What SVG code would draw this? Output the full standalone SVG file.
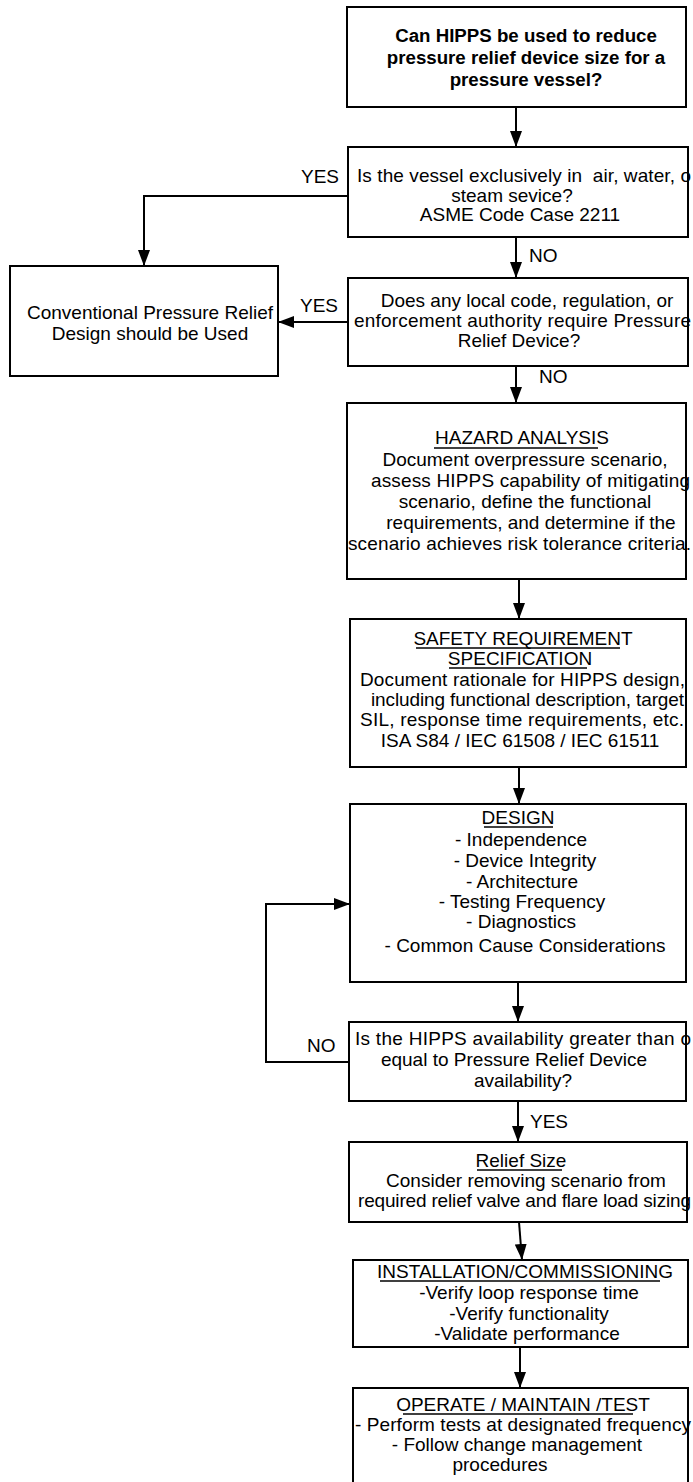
<svg xmlns="http://www.w3.org/2000/svg" width="693" height="1482" viewBox="0 0 693 1482">
<style>
.bg{fill:#fff}
.box{fill:#fff;stroke:#000;stroke-width:2}
.t{font-family:"Liberation Sans",Arial,Helvetica,sans-serif;font-size:19px;fill:#000}
.b{font-weight:bold;font-size:18.7px}
.m{text-anchor:middle}
.c{fill:none;stroke:#000;stroke-width:2}
.u{stroke:#000;stroke-width:1.4}
</style>
<defs>
<marker id="ah" markerUnits="userSpaceOnUse" markerWidth="16" markerHeight="12" refX="16" refY="6" orient="auto">
<path d="M0,0 L16,6 L0,12 z" fill="#000"/>
</marker>
</defs>
<rect class="bg" x="0" y="0" width="693" height="1482"/>
<g id="connectors">
<path class="c" d="M516,107 V147" marker-end="url(#ah)"/>
<path class="c" d="M348,196 H144 V266" marker-end="url(#ah)"/>
<path class="c" d="M516,237 V278" marker-end="url(#ah)"/>
<path class="c" d="M348,322 H278" marker-end="url(#ah)"/>
<path class="c" d="M516,366 V403" marker-end="url(#ah)"/>
<path class="c" d="M519,579 V619" marker-end="url(#ah)"/>
<path class="c" d="M519,767 V804" marker-end="url(#ah)"/>
<path class="c" d="M518,982 V1022" marker-end="url(#ah)"/>
<path class="c" d="M349,1062 H266 V904 H350" marker-end="url(#ah)"/>
<path class="c" d="M518,1101 V1142" marker-end="url(#ah)"/>
<path class="c" d="M519,1222 L522,1260" marker-end="url(#ah)"/>
<path class="c" d="M520,1347 V1388" marker-end="url(#ah)"/>
<text class="t" x="301" y="183">YES</text>
<text class="t" x="529" y="262">NO</text>
<text class="t" x="300" y="312">YES</text>
<text class="t" x="539" y="383">NO</text>
<text class="t" x="307" y="1052">NO</text>
<text class="t" x="530" y="1128">YES</text>
</g>
<g id="n1">
<rect class="box" x="347" y="7" width="339" height="100"/>
<text class="t b m" x="526" y="42">Can HIPPS be used to reduce</text>
<text class="t b m" x="526" y="64">pressure relief device size for a</text>
<text class="t b m" x="526" y="86">pressure vessel?</text>
</g>
<g id="n2">
<rect class="box" x="348" y="147" width="340" height="90"/>
<text class="t" x="357" y="182" xml:space="preserve" textLength="334" lengthAdjust="spacing">Is the vessel exclusively in  air, water, o</text>
<text class="t m" x="512" y="202">steam sevice?</text>
<text class="t m" x="520" y="221">ASME Code Case 2211</text>
</g>
<g id="n3">
<rect class="box" x="10" y="266" width="268" height="110"/>
<text class="t m" x="150" y="319">Conventional Pressure Relief</text>
<text class="t m" x="150" y="340">Design should be Used</text>
</g>
<g id="n4">
<rect class="box" x="348" y="278" width="340" height="88"/>
<text class="t m" x="527" y="307">Does any local code, regulation, or</text>
<text class="t" x="354" y="327" textLength="337" lengthAdjust="spacing">enforcement authority require Pressure</text>
<text class="t m" x="519" y="347">Relief Device?</text>
</g>
<g id="n5">
<rect class="box" x="347" y="403" width="339" height="176"/>
<text class="t m" x="522" y="444">HAZARD ANALYSIS</text>
<line class="u" x1="434" y1="448" x2="598" y2="448"/>
<text class="t m" x="525" y="466">Document overpressure scenario,</text>
<text class="t" x="371" y="487" textLength="319" lengthAdjust="spacing">assess HIPPS capability of mitigating</text>
<text class="t m" x="525" y="508">scenario, define the functional</text>
<text class="t m" x="531" y="529">requirements, and determine if the</text>
<text class="t" x="348" y="550" textLength="343" lengthAdjust="spacing">scenario achieves risk tolerance criteria.</text>
</g>
<g id="n6">
<rect class="box" x="350" y="619" width="336" height="148"/>
<text class="t m" x="523" y="645">SAFETY REQUIREMENT</text>
<line class="u" x1="416" y1="648" x2="620" y2="648"/>
<text class="t m" x="520" y="665">SPECIFICATION</text>
<line class="u" x1="449" y1="668" x2="587" y2="668"/>
<text class="t" x="360" y="686" textLength="325" lengthAdjust="spacing">Document rationale for HIPPS design,</text>
<text class="t" x="371" y="706" textLength="313" lengthAdjust="spacing">including functional description, target</text>
<text class="t" x="360" y="726" textLength="324" lengthAdjust="spacing">SIL, response time requirements, etc.</text>
<text class="t m" x="520" y="747">ISA S84 / IEC 61508 / IEC 61511</text>
</g>
<g id="n7">
<rect class="box" x="350" y="804" width="336" height="178"/>
<text class="t m" x="518" y="824">DESIGN</text>
<line class="u" x1="484" y1="827" x2="553" y2="827"/>
<text class="t m" x="521" y="846">- Independence</text>
<text class="t m" x="525" y="867">- Device Integrity</text>
<text class="t m" x="522" y="888">- Architecture</text>
<text class="t m" x="522" y="908">- Testing Frequency</text>
<text class="t m" x="521" y="928">- Diagnostics</text>
<text class="t m" x="525" y="952">- Common Cause Considerations</text>
</g>
<g id="n8">
<rect class="box" x="349" y="1022" width="337" height="79"/>
<text class="t" x="355" y="1045" textLength="336" lengthAdjust="spacing">Is the HIPPS availability greater than o</text>
<text class="t m" x="514" y="1066">equal to Pressure Relief Device</text>
<text class="t m" x="523" y="1087">availability?</text>
</g>
<g id="n9">
<rect class="box" x="349" y="1142" width="338" height="80"/>
<text class="t m" x="521" y="1167">Relief Size</text>
<line class="u" x1="477" y1="1170" x2="562" y2="1170"/>
<text class="t m" x="526" y="1187">Consider removing scenario from</text>
<text class="t" x="358" y="1207" textLength="333" lengthAdjust="spacing">required relief valve and flare load sizing</text>
</g>
<g id="n10">
<rect class="box" x="353" y="1260" width="335" height="87"/>
<text class="t m" x="525" y="1278">INSTALLATION/COMMISSIONING</text>
<line class="u" x1="380" y1="1281" x2="660" y2="1281"/>
<text class="t m" x="529" y="1299">-Verify loop response time</text>
<text class="t m" x="529" y="1320">-Verify functionality</text>
<text class="t m" x="527" y="1340">-Validate performance</text>
</g>
<g id="n11">
<rect class="box" x="353" y="1388" width="335" height="110"/>
<text class="t m" x="523" y="1411">OPERATE / MAINTAIN /TEST</text>
<line class="u" x1="403" y1="1414" x2="633" y2="1414"/>
<text class="t" x="355" y="1431" textLength="336" lengthAdjust="spacing">- Perform tests at designated frequency</text>
<text class="t m" x="517" y="1451">- Follow change management</text>
<text class="t m" x="500" y="1471">procedures</text>
</g>
</svg>
